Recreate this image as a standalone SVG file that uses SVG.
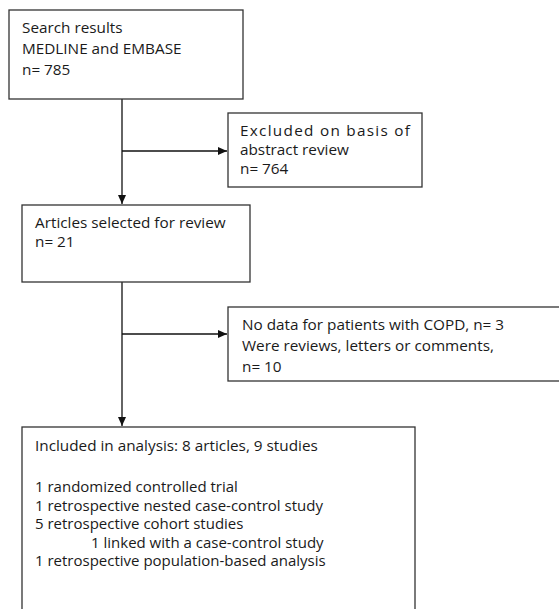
<svg xmlns="http://www.w3.org/2000/svg" width="559" height="609" viewBox="0 0 559 609">
<defs>
<marker id="ah" markerWidth="10" markerHeight="10" refX="9" refY="5" orient="auto" markerUnits="userSpaceOnUse">
<path d="M0,1 L9,5 L0,9 Z" fill="#111"/>
</marker>
<style>
.box{fill:#fff;stroke:#333;stroke-width:1.3}
.t{font-family:"Open Sans","Noto Sans",sans-serif;font-size:15.3px;fill:#1a1a1a}
.s{font-size:15px}
.c{stroke:#111;stroke-width:1.3;fill:none}
</style>
</defs>
<rect width="559" height="609" fill="#fff"/>
<g id="connectors">
<line class="c" x1="122" y1="99" x2="122" y2="204" marker-end="url(#ah)"/>
<line class="c" x1="122" y1="151" x2="227" y2="151" marker-end="url(#ah)"/>
<line class="c" x1="122" y1="282" x2="122" y2="426" marker-end="url(#ah)"/>
<line class="c" x1="122" y1="334" x2="227" y2="334" marker-end="url(#ah)"/>
</g>
<g id="n1">
<rect class="box" x="9" y="10" width="234" height="89"/>
<text class="t" x="22" y="33">Search results</text>
<text class="t" x="22" y="54">MEDLINE and EMBASE</text>
<text class="t" x="22" y="75">n= 785</text>
</g>
<g id="n2">
<rect class="box" x="228" y="113" width="194" height="74"/>
<text class="t" x="240" y="136" textLength="170" lengthAdjust="spacing">Excluded on basis of</text>
<text class="t" x="240" y="155">abstract review</text>
<text class="t" x="240" y="174">n= 764</text>
</g>
<g id="n3">
<rect class="box" x="22" y="205" width="228" height="77"/>
<text class="t" x="35" y="228">Articles selected for review</text>
<text class="t" x="35" y="247">n= 21</text>
</g>
<g id="n4">
<rect class="box" x="228" y="307" width="340" height="74"/>
<text class="t" x="242" y="330">No data for patients with COPD, n= 3</text>
<text class="t" x="242" y="351">Were reviews, letters or comments,</text>
<text class="t" x="242" y="372">n= 10</text>
</g>
<g id="n5">
<rect class="box" x="22" y="427" width="393" height="200"/>
<text class="t" x="35" y="451">Included in analysis: 8 articles, 9 studies</text>
<text class="t s" x="35" y="492">1 randomized controlled trial</text>
<text class="t s" x="35" y="510.5">1 retrospective nested case-control study</text>
<text class="t s" x="35" y="529">5 retrospective cohort studies</text>
<text class="t s" x="91" y="547.5">1 linked with a case-control study</text>
<text class="t s" x="35" y="566">1 retrospective population-based analysis</text>
</g>
</svg>
